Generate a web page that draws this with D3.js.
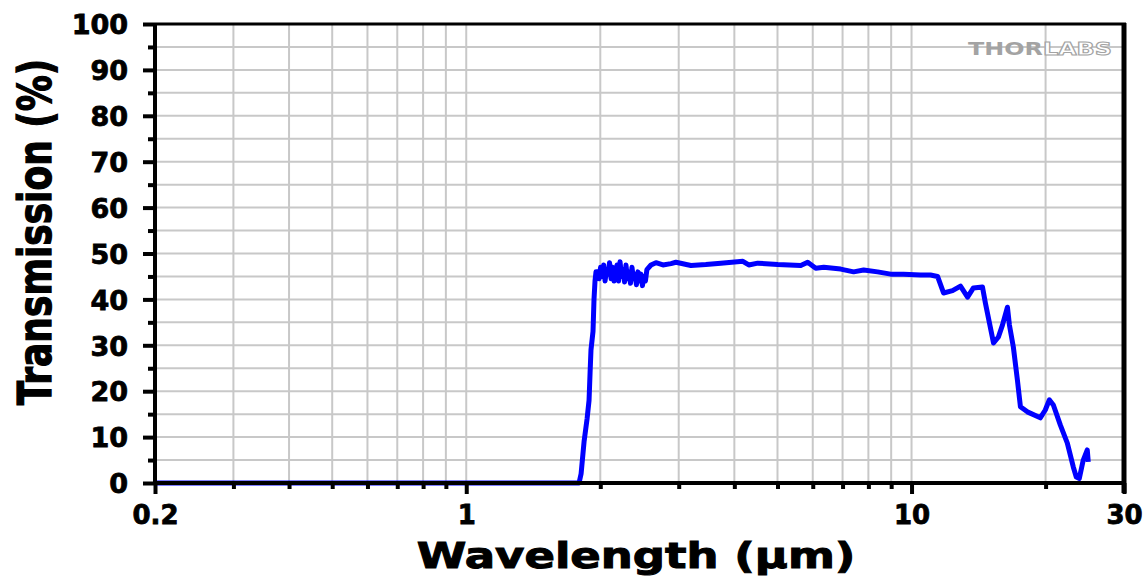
<!DOCTYPE html>
<html>
<head>
<meta charset="utf-8">
<script src="https://cdn.jsdelivr.net/npm/d3@7"></script>
<style>
  html, body { margin: 0; padding: 0; background: #ffffff; }
  svg { display: block; }
  text { font-family: "DejaVu Sans", "Liberation Sans", sans-serif; font-weight: bold; fill: #000; }
</style>
</head>
<body>
<svg id="chart" width="1147" height="577"></svg>
<script>
// Wavelength (µm) and transmission (%) of the measured curve
const wavelength = [
  0.2, 1.792, 1.811, 1.839, 1.868, 1.887, 1.897, 1.906, 1.926, 1.936, 1.946, 1.956,
  1.972, 1.988, 2.003, 2.019, 2.035, 2.050, 2.066, 2.082, 2.098, 2.115, 2.131, 2.147,
  2.164, 2.181, 2.198, 2.215, 2.232, 2.249, 2.267, 2.284, 2.302, 2.320, 2.338, 2.356,
  2.374, 2.393, 2.411, 2.430, 2.449, 2.468, 2.487, 2.506, 2.526, 2.545,
  2.599, 2.667, 2.765, 2.882, 2.957, 3.196, 3.452,
  3.730, 4.180, 4.310, 4.515, 5.007, 5.639, 5.845, 6.094, 6.352, 6.933, 7.413, 7.806,
  8.389, 8.974, 9.596, 10.48, 11.03, 11.44, 11.80, 12.36, 12.88, 13.36, 13.77, 14.43,
  14.65, 15.28, 15.67, 16.00, 16.42, 16.59, 16.93, 17.29, 17.56, 18.20, 19.46, 19.97,
  20.39, 20.82, 21.59, 22.38, 23.08, 23.44, 23.81, 24.30, 24.81, 24.94
];
const transmission = [
  0, 0, 2, 9, 14, 18, 24, 29, 33, 40, 44, 46,
  46, 44.5, 47, 45, 47.5, 44, 46.5, 45.5, 48, 44.5, 47, 44,
  46, 47.5, 44, 48.2, 45, 46.5, 43.8, 47.5, 44.5, 46, 43.5, 47,
  44.5, 45.5, 43.2, 46, 44, 45.5, 43, 45, 44, 46.5,
  47.5, 48, 47.5, 47.8, 48.1, 47.4, 47.6,
  47.9, 48.3, 47.5, 47.9, 47.6, 47.4, 48.1, 46.8, 47.0, 46.6, 46.0, 46.4,
  46.0, 45.5, 45.5, 45.3, 45.3, 45.0, 41.4, 41.9, 42.9, 40.5, 42.5, 42.7,
  39.2, 30.5, 31.8, 34.4, 38.3, 34.4, 29.6, 22.4, 16.6, 15.5, 14.2, 15.9,
  18.1, 17.0, 12.6, 8.7, 3.5, 1.3, 1.0, 5.0, 7.2, 4.6
];

// Axis ticks
const xMajorTicks = [0.2, 1, 10, 30];
const xMajorLabels = ["0.2", "1", "10", "30"];
const xMinorTicks = [0.3, 0.4, 0.5, 0.6, 0.7, 0.8, 0.9, 2, 3, 4, 5, 6, 7, 8, 9, 20];
const xGridValues = [0.3, 0.4, 0.5, 0.6, 0.7, 0.8, 0.9, 1, 2, 3, 4, 5, 6, 7, 8, 9, 10, 20];
const yMajorTicks = [0, 10, 20, 30, 40, 50, 60, 70, 80, 90, 100];
const yMinorTicks = [5, 15, 25, 35, 45, 55, 65, 75, 85, 95];

const xTitle = "Wavelength (µm)";
const yTitle = "Transmission (%)";

const svg = d3.select("#chart");
const plotLeft = 155, plotRight = 1124, plotTop = 24, plotBottom = 483;

const x = d3.scaleLog().domain([0.2, 30]).range([plotLeft, plotRight]);
const y = d3.scaleLinear().domain([0, 100]).range([plotBottom, plotTop]);

// Grid
const grid = svg.append("g").attr("stroke", "#c8c8c8").attr("stroke-width", 2);
grid.selectAll("line.v").data(xGridValues).join("line")
  .attr("class", "v")
  .attr("x1", d => x(d)).attr("x2", d => x(d))
  .attr("y1", plotTop).attr("y2", plotBottom);
grid.selectAll("line.h").data(yMajorTicks.concat(yMinorTicks).filter(d => d > 0 && d < 100)).join("line")
  .attr("class", "h")
  .attr("x1", plotLeft).attr("x2", plotRight)
  .attr("y1", d => y(d)).attr("y2", d => y(d));

// Logo
svg.append("text")
  .attr("x", 968).attr("y", 55)
  .attr("font-size", 18)
  .attr("textLength", 144).attr("lengthAdjust", "spacingAndGlyphs")
  .style("fill", "#a3a3a3")
  .html('THOR<tspan style="fill:#ffffff;stroke:#a3a3a3;stroke-width:1">LABS</tspan>');

// Curve
const pts = wavelength.map((w, i) => [w, transmission[i]]);
svg.append("path")
  .datum(pts)
  .attr("fill", "none")
  .attr("stroke", "#0000ff")
  .attr("stroke-width", 5)
  .attr("stroke-linejoin", "round")
  .attr("d", d3.line().x(d => x(d[0])).y(d => y(d[1])));

// Frame
const frame = svg.append("g").attr("stroke", "#000");
frame.append("line").attr("x1", plotLeft).attr("x2", plotRight + 2).attr("y1", plotTop).attr("y2", plotTop).attr("stroke-width", 3);
frame.append("line").attr("x1", plotRight).attr("x2", plotRight).attr("y1", plotTop - 1).attr("y2", plotBottom + 10).attr("stroke-width", 5);

// Y axis
const yAxisMajor = d3.axisLeft(y).tickValues(yMajorTicks).tickSize(12).tickPadding(15).tickFormat(d3.format("d"));
const gy = svg.append("g").attr("transform", `translate(${plotLeft},0)`).call(yAxisMajor);
gy.select(".domain").attr("stroke-width", 4).attr("d", `M0,${plotTop - 1}V${plotBottom + 2}`);
gy.selectAll(".tick line").attr("stroke-width", 4);
gy.selectAll(".tick text").attr("font-size", 27).attr("font-family", "DejaVu Sans").attr("font-weight", "bold")
  .attr("dy", "0.36em").attr("stroke", "#000").attr("stroke-width", 0.8);
const yAxisMinor = d3.axisLeft(y).tickValues(yMinorTicks).tickSize(7).tickFormat("");
const gym = svg.append("g").attr("transform", `translate(${plotLeft},0)`).call(yAxisMinor);
gym.select(".domain").remove();
gym.selectAll(".tick line").attr("stroke-width", 4);

// X axis
const xAxisMajor = d3.axisBottom(x).tickValues(xMajorTicks).tickSize(11).tickPadding(12)
  .tickFormat((d, i) => xMajorLabels[i]);
const gx = svg.append("g").attr("transform", `translate(0,${plotBottom})`).call(xAxisMajor);
gx.select(".domain").attr("stroke-width", 4).attr("d", `M${plotLeft - 2},0H${plotRight + 2}`);
gx.selectAll(".tick line").attr("stroke-width", 4);
gx.selectAll(".tick text").attr("font-size", 26).attr("font-family", "DejaVu Sans").attr("font-weight", "bold")
  .attr("stroke", "#000").attr("stroke-width", 0.8);
const xAxisMinor = d3.axisBottom(x).tickValues(xMinorTicks).tickSize(6).tickFormat("");
const gxm = svg.append("g").attr("transform", `translate(0,${plotBottom})`).call(xAxisMinor);
gxm.select(".domain").remove();
gxm.selectAll(".tick line").attr("stroke-width", 4);

// Axis titles (wide heavy lettering via a horizontal/perpendicular scale)
svg.append("text")
  .attr("transform", "translate(636,568) scale(1.25,1)")
  .attr("text-anchor", "middle")
  .attr("font-size", 36)
  .attr("stroke", "#000").attr("stroke-width", 1)
  .text(xTitle);

svg.append("text")
  .attr("transform", "translate(51,232) rotate(-90) scale(1,1.3)")
  .attr("text-anchor", "middle")
  .attr("font-size", 36)
  .attr("stroke", "#000").attr("stroke-width", 1)
  .text(yTitle);
</script>
</body>
</html>
